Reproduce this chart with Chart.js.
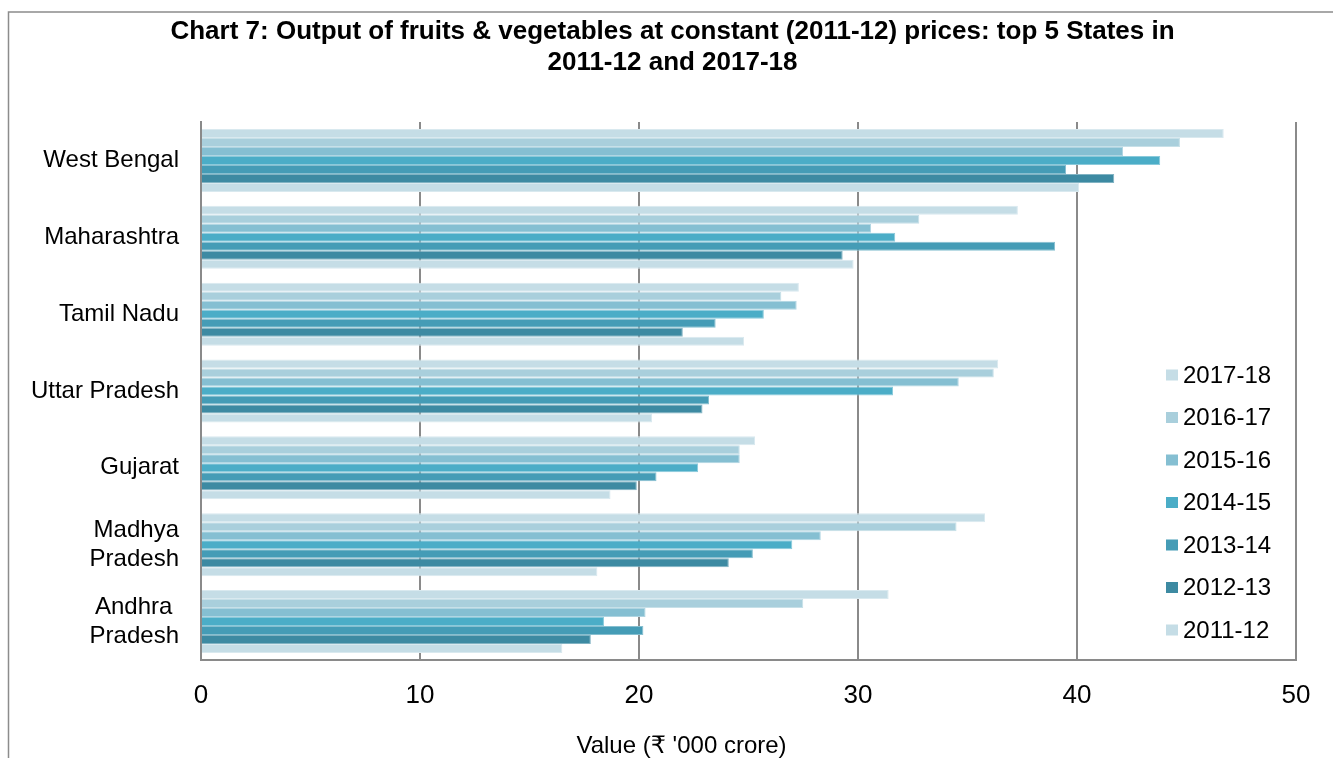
<!DOCTYPE html>
<html>
<head>
<meta charset="utf-8">
<title>Chart 7</title>
<script src="https://cdn.jsdelivr.net/npm/chart.js@4.4.1/dist/chart.umd.min.js"></script>
<style>
 html, body { margin: 0; padding: 0; background: #fff; }
 #wrap { width: 1333px; height: 758px; }
</style>
</head>
<body>
<div id="wrap"><canvas id="fruitVegChart" width="1333" height="758"></canvas></div>
<script>
var states = [
 "West Bengal",
 "Maharashtra",
 "Tamil Nadu",
 "Uttar Pradesh",
 "Gujarat",
 ["Madhya", "Pradesh"],
 ["Andhra ", "Pradesh"],
];

var yearLabels = ["2017-18", "2016-17", "2015-16", "2014-15", "2013-14", "2012-13", "2011-12"];

// values in Rs '000 crore, one array per year, same order as states
var v2017 = [46.7, 37.3, 27.3, 36.4, 25.3, 35.8, 31.4];
var v2016 = [44.7, 32.8, 26.5, 36.2, 24.6, 34.5, 27.5];
var v2015 = [42.1, 30.6, 27.2, 34.6, 24.6, 28.3, 20.3];
var v2014 = [43.8, 31.7, 25.7, 31.6, 22.7, 27.0, 18.4];
var v2013 = [39.5, 39.0, 23.5, 23.2, 20.8, 25.2, 20.2];
var v2012 = [41.7, 29.3, 22.0, 22.9, 19.9, 24.1, 17.8];
var v2011 = [40.1, 29.8, 24.8, 20.6, 18.7, 18.1, 16.5];

var xTicks = [0, 10, 20, 30, 40, 50];

var barColors = ["#C5DDE6", "#A9CFDC", "#85BFD2", "#4BADC7", "#459CB6", "#3D8AA2", "#C5DDE6"];

var seriesValues = [v2017, v2016, v2015, v2014, v2013, v2012, v2011];

var titleLines = [
 "Chart 7: Output of fruits & vegetables at constant (2011-12) prices: top 5 States in",
 "2011-12 and 2017-18",
];
var axisTitle = "Value (₹ '000 crore)";

Chart.defaults.font.family = "'Liberation Sans', Arial, 'DejaVu Sans', sans-serif";
Chart.defaults.color = "#000";

var gridGray = "#8a8a8a";
var fontStack = "'Liberation Sans', Arial, 'DejaVu Sans', sans-serif";

// mix a hex colour with white, used for the thin bar edges
function lighten(hex, t) {
 var r = parseInt(hex.substr(1, 2), 16);
 var g = parseInt(hex.substr(3, 2), 16);
 var b = parseInt(hex.substr(5, 2), 16);
 r = Math.round(r + (255 - r) * t);
 g = Math.round(g + (255 - g) * t);
 b = Math.round(b + (255 - b) * t);
 return "rgb(" + r + "," + g + "," + b + ")";
}

function buildDatasets() {
 return seriesValues.map(function (vals, i) {
  return {
   label: yearLabels[i],
   data: vals,
   backgroundColor: barColors[i],
   borderColor: lighten(barColors[i], 0.35),
   borderWidth: 1,
   borderSkipped: "start",
   categoryPercentage: 0.82,
   barPercentage: 1.0,
  };
 });
}

// grey frame, only left and top edges are inside the picture
var framePlugin = {
 id: "frame",
 beforeDraw: function (chart) {
  var ctx = chart.ctx;
  ctx.save();
  ctx.fillStyle = "#fff";
  ctx.fillRect(0, 0, chart.width, chart.height);
  ctx.strokeStyle = "#8c8c8c";
  ctx.lineWidth = 1.5;
  ctx.beginPath();
  ctx.moveTo(8.5, chart.height);
  ctx.lineTo(8.5, 12);
  ctx.lineTo(chart.width, 12);
  ctx.stroke();
  ctx.restore();
 },
};

// title, legend inside the plot (lower right) and the x axis title,
// the titles are centred on the frame rather than on the plot
var extrasPlugin = {
 id: "extras",
 afterDraw: function (chart) {
  var ctx = chart.ctx;
  var area = chart.chartArea;
  var midX = chart.width / 2;
  ctx.save();
  ctx.fillStyle = "#000";
  ctx.textBaseline = "middle";
  ctx.textAlign = "center";
  ctx.font = "bold 26px " + fontStack;
  titleLines.forEach(function (line, i) {
   ctx.fillText(line, midX + 6, 32 + i * 31);
  });

  ctx.font = "24px " + fontStack;
  ctx.fillText(axisTitle, midX + 15, chart.height - 12);

  var x0 = area.right - 130;
  var y0 = area.bottom - 285;
  var step = 42.5;
  ctx.textAlign = "left";
  chart.data.datasets.forEach(function (ds, i) {
   var y = y0 + i * step;
   ctx.fillStyle = ds.backgroundColor;
   ctx.fillRect(x0, y - 5.5, 12, 11);
   ctx.fillStyle = "#000";
   ctx.fillText(ds.label, x0 + 17, y + 1);
  });
  ctx.restore();
 },
};

var ctx = document.getElementById("fruitVegChart");

new Chart(ctx, {
 type: "bar",
 data: {
  labels: states,
  datasets: buildDatasets(),
 },
 options: {
  indexAxis: "y",
  responsive: false,
  animation: false,
  layout: {
   padding: { left: 0, right: 37, top: 122, bottom: 0 },
  },
  plugins: {
   legend: { display: false },
   tooltip: { enabled: false },
   title: { display: false },
  },
  scales: {
   x: {
    min: 0,
    max: 50,
    afterBuildTicks: function (scale) {
     scale.ticks = xTicks.map(function (v) {
      return { value: v };
     });
    },
    afterFit: function (scale) {
     scale.height = 98;
    },
    grid: {
     color: gridGray,
     lineWidth: 2,
     drawTicks: false,
    },
    border: { display: true, color: gridGray, width: 2 },
    ticks: {
     padding: 20,
     font: { size: 26 },
     color: "#000",
    },
   },
   y: {
    afterFit: function (scale) {
     scale.width = 201;
    },
    grid: { display: false, drawTicks: false },
    border: { display: true, color: gridGray, width: 2 },
    ticks: {
     padding: 22,
     font: { size: 24 },
     color: "#000",
    },
   },
  },
 },
 plugins: [framePlugin, extrasPlugin],
});
</script>
</body>
</html>
